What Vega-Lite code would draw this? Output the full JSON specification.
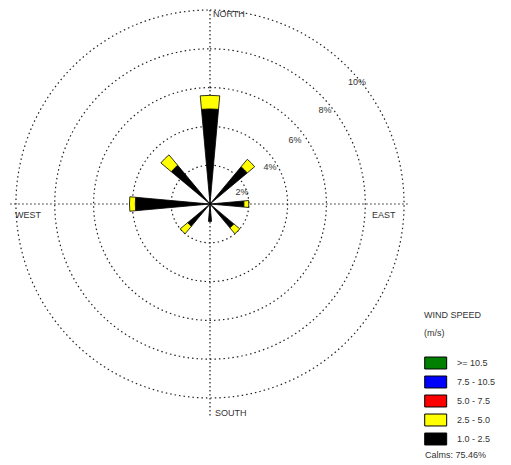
{
  "$schema": "https://vega.github.io/schema/vega-lite/v6.json",
  "width": 511,
  "height": 465,
  "autosize": "none",
  "padding": 0,
  "background": "white",
  "config": {"view": {"stroke": null}, "font": "Liberation Sans"},
  "datasets": {
    "bars": [
      {"dir": 0, "speed": "1.0 - 2.5", "r1": 0, "r2": 4.9},
      {"dir": 0, "speed": "2.5 - 5.0", "r1": 4.9, "r2": 5.6},
      {"dir": 45, "speed": "1.0 - 2.5", "r1": 0, "r2": 2.5},
      {"dir": 45, "speed": "2.5 - 5.0", "r1": 2.5, "r2": 3.0},
      {"dir": 90, "speed": "1.0 - 2.5", "r1": 0, "r2": 1.75},
      {"dir": 90, "speed": "2.5 - 5.0", "r1": 1.75, "r2": 2.0},
      {"dir": 135, "speed": "1.0 - 2.5", "r1": 0, "r2": 1.6},
      {"dir": 135, "speed": "2.5 - 5.0", "r1": 1.6, "r2": 2.0},
      {"dir": 180, "speed": "1.0 - 2.5", "r1": 0, "r2": 0.9},
      {"dir": 225, "speed": "1.0 - 2.5", "r1": 0, "r2": 1.5},
      {"dir": 225, "speed": "2.5 - 5.0", "r1": 1.5, "r2": 2.0},
      {"dir": 270, "speed": "1.0 - 2.5", "r1": 0, "r2": 3.85},
      {"dir": 270, "speed": "2.5 - 5.0", "r1": 3.85, "r2": 4.15},
      {"dir": 315, "speed": "1.0 - 2.5", "r1": 0, "r2": 2.6},
      {"dir": 315, "speed": "2.5 - 5.0", "r1": 2.6, "r2": 3.3}
    ],
    "rings": [{"r": 2}, {"r": 4}, {"r": 6}, {"r": 8}, {"r": 10}],
    "axes": [
      {"x1": 0, "y1": -10.9, "x2": 0, "y2": 10.05},
      {"x1": -10.3, "y1": 0, "x2": 10.3, "y2": 0}
    ],
    "pct": [
      {"label": "2%", "x": 1.65, "y": 0.62},
      {"label": "4%", "x": 3.09, "y": 1.91},
      {"label": "6%", "x": 4.38, "y": 3.3},
      {"label": "8%", "x": 5.93, "y": 4.85},
      {"label": "10%", "x": 7.58, "y": 6.29}
    ],
    "dirs": [
      {"label": "NORTH", "x": 0.15, "y": 9.79},
      {"label": "SOUTH", "x": 0.26, "y": -10.77},
      {"label": "WEST", "x": -10.05, "y": -0.57},
      {"label": "EAST", "x": 8.35, "y": -0.57},
      {"label": "Calms: 75.46%", "x": 11.08, "y": -12.94}
    ]
  },
  "layer": [
    {
      "data": {"name": "rings"},
      "mark": {"type": "arc", "theta": 0, "theta2": 6.2832, "filled": false, "stroke": "#222", "strokeWidth": 1.2, "strokeDash": [1.5, 3]},
      "encoding": {
        "x": {"datum": 0, "type": "quantitative", "scale": {"domain": [-10, 10], "range": [16, 404]}, "axis": null},
        "y": {"datum": 0, "type": "quantitative", "scale": {"domain": [-10, 10], "range": [398, 10]}, "axis": null},
        "radius": {"field": "r", "type": "quantitative", "stack": null, "scale": {"type": "linear", "domain": [0, 10], "range": [0, 194], "zero": true}}
      }
    },
    {
      "data": {"name": "axes"},
      "mark": {"type": "rule", "stroke": "#222", "strokeWidth": 1.2, "strokeDash": [1.5, 2.5]},
      "encoding": {
        "x": {"field": "x1", "type": "quantitative"},
        "y": {"field": "y1", "type": "quantitative"},
        "x2": {"field": "x2"},
        "y2": {"field": "y2"}
      }
    },
    {
      "data": {"name": "bars"},
      "mark": {"type": "arc", "thetaOffset": -0.09, "theta2Offset": 0.09, "stroke": "black", "strokeWidth": 0.8},
      "encoding": {
        "x": {"datum": 0, "type": "quantitative"},
        "y": {"datum": 0, "type": "quantitative"},
        "theta": {"field": "dir", "type": "quantitative", "stack": null, "scale": {"type": "linear", "domain": [0, 360], "range": [0, 6.283185]}},
        "theta2": {"field": "dir"},
        "radius": {"field": "r2", "type": "quantitative", "stack": null},
        "radius2": {"field": "r1"},
        "color": {
          "field": "speed", "type": "nominal",
          "scale": {"domain": [">= 10.5", "7.5 - 10.5", "5.0 - 7.5", "2.5 - 5.0", "1.0 - 2.5"], "range": ["#008000", "#0000ff", "#ff0000", "#ffff00", "#000000"]},
          "legend": {
            "orient": "none", "legendX": 424, "legendY": 311,
            "title": ["WIND SPEED", "(m/s)"],
            "titleFontSize": 9, "titleFontWeight": "normal", "titleColor": "#333", "titleLineHeight": 18, "titlePadding": 16,
            "labelFontSize": 9, "labelColor": "#333", "labelOffset": 15,
            "symbolType": "M-1,-0.72H1.65V0.72H-1Z", "symbolSize": 275, "symbolStrokeColor": "black", "symbolStrokeWidth": 1,
            "rowPadding": 2
          }
        }
      }
    },
    {
      "data": {"name": "pct"},
      "mark": {"type": "text", "fontSize": 9, "color": "#333", "align": "center", "baseline": "middle"},
      "encoding": {
        "x": {"field": "x", "type": "quantitative"},
        "y": {"field": "y", "type": "quantitative"},
        "text": {"field": "label"}
      }
    },
    {
      "data": {"name": "dirs"},
      "mark": {"type": "text", "fontSize": 9, "color": "#333", "align": "left", "baseline": "middle"},
      "encoding": {
        "x": {"field": "x", "type": "quantitative"},
        "y": {"field": "y", "type": "quantitative"},
        "text": {"field": "label"}
      }
    }
  ]
}
